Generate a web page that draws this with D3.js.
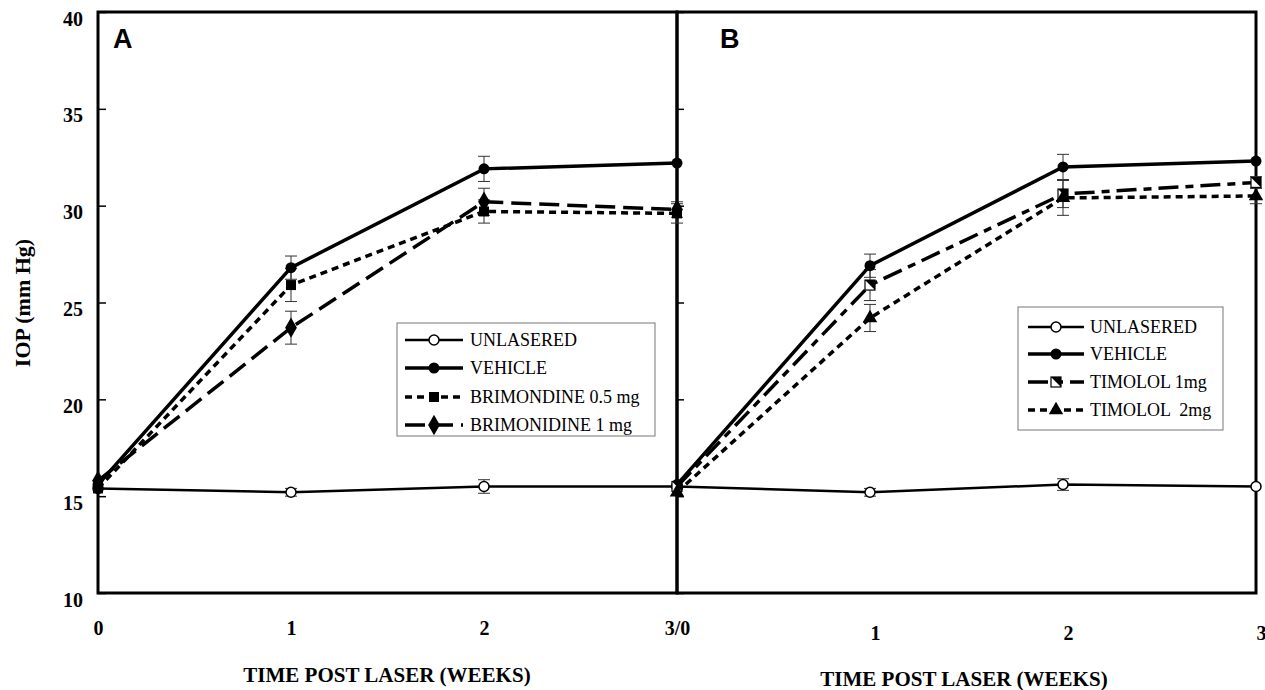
<!DOCTYPE html>
<html lang="en">
<head>
<meta charset="utf-8">
<title>IOP after laser</title>
<script src="https://d3js.org/d3.v7.min.js"></script>
<style>
  body { margin: 0; background: #fff; }
  .axis path { display: none; }
  .axis line { stroke: #000; stroke-width: 1.5px; }
  .axis text {
    font-family: "Liberation Serif", "Times New Roman", serif;
    font-weight: bold;
    font-size: 20px;
    fill: #000;
  }
  .legend text {
    font-family: "Liberation Serif", "Times New Roman", serif;
    font-size: 18px;
    fill: #000;
  }
  .title {
    font-family: "Liberation Serif", "Times New Roman", serif;
    font-weight: bold;
    font-size: 21px;
  }
  .panel {
    font-family: "Liberation Sans", Arial, sans-serif;
    font-weight: bold;
    font-size: 27px;
  }
</style>
</head>
<body>
<div id="chart"></div>
<script>

// data
var weeks = [0, 1, 2, 3]
var yTicks = [10, 15, 20, 25, 30, 35, 40]
var xLabelsA = ["0", "1", "2", "3/0"]
var xTicksB = [1, 2, 3]
var xLabelsB = ["1", "2", "3"]

// panel A
var unlaseredA = [15.4, 15.2, 15.5, 15.5]
var unlaseredAErr = [0, 0.2, 0.35, 0]
var vehicleA = [15.6, 26.8, 31.9, 32.2]
var vehicleAErr = [0, 0.6, 0.65, 0]
var brim05 = [15.4, 25.9, 29.7, 29.6]
var brim05Err = [0, 0.85, 0.6, 0.5]
var brim1 = [15.8, 23.7, 30.2, 29.8]
var brim1Err = [0, 0.85, 0.7, 0.4]
var legendA = ["UNLASERED", "VEHICLE", "BRIMONDINE 0.5 mg", "BRIMONIDINE 1 mg"]

// panel B
var unlaseredB = [15.5, 15.2, 15.6, 15.5]
var unlaseredBErr = [0, 0.2, 0.3, 0]
var vehicleB = [15.6, 26.9, 32.0, 32.3]
var vehicleBErr = [0, 0.6, 0.65, 0]
var timolol1 = [15.5, 25.9, 30.6, 31.2]
var timolol1Err = [0, 0.8, 0.7, 0.3]
var timolol2 = [15.2, 24.2, 30.4, 30.5]
var timolol2Err = [0, 0.7, 0.9, 0.4]
var legendB = ["UNLASERED", "VEHICLE", "TIMOLOL 1mg", "TIMOLOL  2mg"]

var w = 1265
var h = 690

var svg = d3.select("#chart")
    .append("svg")
    .attr("width", w)
    .attr("height", h)

var y = d3.scaleLinear().domain([10, 40]).range([593, 12])
var xA = d3.scaleLinear().domain([0, 3]).range([98, 677])
var xB = d3.scaleLinear().domain([0, 3]).range([677, 1256])

// line styles
var styles = {
    unlasered: { width: 2.5, dash: null, marker: "open" },
    vehicle: { width: 3.5, dash: null, marker: "circle" },
    brim05: { width: 3.5, dash: "7,5", marker: "square" },
    brim1: { width: 3.5, dash: "20,8", marker: "diamond" },
    timolol1: { width: 3.5, dash: "20,7,8,7", marker: "half" },
    timolol2: { width: 3.5, dash: "7,5", marker: "triangle" }
}

var panelA = [
    { values: unlaseredA, err: unlaseredAErr, style: styles.unlasered, label: legendA[0] },
    { values: vehicleA, err: vehicleAErr, style: styles.vehicle, label: legendA[1] },
    { values: brim05, err: brim05Err, style: styles.brim05, label: legendA[2] },
    { values: brim1, err: brim1Err, style: styles.brim1, label: legendA[3] }
]
var panelB = [
    { values: unlaseredB, err: unlaseredBErr, style: styles.unlasered, label: legendB[0] },
    { values: vehicleB, err: vehicleBErr, style: styles.vehicle, label: legendB[1] },
    { values: timolol1, err: timolol1Err, style: styles.timolol1, label: legendB[2] },
    { values: timolol2, err: timolol2Err, style: styles.timolol2, label: legendB[3] }
]

function marker(g, type, cx, cy) {
    if (type == "open") {
        g.append("circle").attr("cx", cx).attr("cy", cy).attr("r", 5)
            .attr("fill", "#fff").attr("stroke", "#000").attr("stroke-width", 1.5)
    } else if (type == "circle") {
        g.append("circle").attr("cx", cx).attr("cy", cy).attr("r", 5.5).attr("fill", "#000")
    } else if (type == "half") {
        g.append("rect").attr("x", cx - 5).attr("y", cy - 5).attr("width", 10).attr("height", 10)
            .attr("fill", "#fff").attr("stroke", "#000").attr("stroke-width", 1.2)
        g.append("path")
            .attr("d", "M" + (cx - 5) + "," + (cy - 5) + "L" + (cx + 5) + "," + (cy - 5) + "L" + (cx + 5) + "," + (cy + 5) + "Z")
            .attr("fill", "#000")
    } else {
        var sym = { square: d3.symbolSquare, diamond: d3.symbolDiamond, triangle: d3.symbolTriangle }[type]
        var size = { square: 100, diamond: 120, triangle: 90 }[type]
        g.append("path")
            .attr("d", d3.symbol().type(sym).size(size)())
            .attr("transform", "translate(" + cx + "," + cy + ")")
            .attr("fill", "#000")
    }
}

function drawPanel(series, x) {
    var g = svg.append("g")

    // error bars
    series.forEach(function(s) {
        s.values.forEach(function(v, i) {
            var e = s.err[i]
            if (!e) return
            var px = x(weeks[i])
            g.append("line").attr("x1", px).attr("x2", px)
                .attr("y1", y(v - e)).attr("y2", y(v + e))
                .attr("stroke", "#333").attr("stroke-width", 1)
            ;[v - e, v + e].forEach(function(c) {
                g.append("line").attr("x1", px - 6).attr("x2", px + 6)
                    .attr("y1", y(c)).attr("y2", y(c))
                    .attr("stroke", "#333").attr("stroke-width", 1)
            })
        })
    })

    var line = d3.line()
        .x(function(d, i) { return x(weeks[i]) })
        .y(function(d) { return y(d) })

    series.forEach(function(s) {
        g.append("path")
            .datum(s.values)
            .attr("d", line)
            .attr("fill", "none")
            .attr("stroke", "#000")
            .attr("stroke-width", s.style.width)
            .attr("stroke-dasharray", s.style.dash)
    })

    series.forEach(function(s) {
        s.values.forEach(function(v, i) {
            marker(g, s.style.marker, x(weeks[i]), y(v))
        })
    })
}

function drawLegend(series, bx, by, bw, bh, lx0, lx1, tx, rows) {
    var g = svg.append("g").attr("class", "legend")
    g.append("rect").attr("x", bx).attr("y", by).attr("width", bw).attr("height", bh)
        .attr("fill", "#fff").attr("stroke", "#777").attr("stroke-width", 1)
    series.forEach(function(s, i) {
        var ry = rows[i]
        g.append("line").attr("x1", lx0).attr("x2", lx1).attr("y1", ry).attr("y2", ry)
            .attr("stroke", "#000").attr("stroke-width", s.style.width)
            .attr("stroke-dasharray", s.style.dash)
        marker(g, s.style.marker, (lx0 + lx1) / 2, ry)
        g.append("text").attr("x", tx).attr("y", ry).attr("dy", "0.35em")
            .style("white-space", "pre")
            .text(s.label)
    })
}

// frames
svg.append("rect").attr("x", 98).attr("y", 12).attr("width", 579).attr("height", 581)
    .attr("fill", "none").attr("stroke", "#000").attr("stroke-width", 3)
svg.append("rect").attr("x", 677).attr("y", 12).attr("width", 579).attr("height", 581)
    .attr("fill", "none").attr("stroke", "#000").attr("stroke-width", 3)

// y axes
svg.append("g")
    .attr("class", "axis")
    .attr("transform", "translate(98,0)")
    .call(d3.axisLeft(y).tickValues(yTicks).tickSize(-8).tickPadding(15))
    .selectAll("text").attr("dy", "0.65em")

svg.append("g")
    .attr("class", "axis")
    .attr("transform", "translate(677,0)")
    .call(d3.axisLeft(y).tickValues(yTicks).tickSize(-7).tickFormat(""))

// x axes
svg.append("g")
    .attr("class", "axis")
    .attr("transform", "translate(0,593)")
    .call(d3.axisBottom(xA).tickValues(weeks).tickSize(0).tickPadding(28)
        .tickFormat(function(d, i) { return xLabelsA[i] }))

svg.append("g")
    .attr("class", "axis")
    .attr("transform", "translate(5,598)")
    .call(d3.axisBottom(xB).tickValues(xTicksB).tickSize(0).tickPadding(28)
        .tickFormat(function(d, i) { return xLabelsB[i] }))

drawPanel(panelA, xA)
drawPanel(panelB, xB)

drawLegend(panelA, 397, 323, 258, 113, 405, 463, 470, [340, 368, 397, 425])
drawLegend(panelB, 1018, 307, 205, 123, 1028, 1084, 1090, [327, 354, 382, 410])

// titles
svg.append("text").attr("class", "title").attr("x", 387).attr("y", 682)
    .attr("text-anchor", "middle").text("TIME POST LASER (WEEKS)")
svg.append("text").attr("class", "title").attr("x", 964).attr("y", 686)
    .attr("text-anchor", "middle").text("TIME POST LASER (WEEKS)")
svg.append("text").attr("class", "title")
    .style("font-size", "22px")
    .attr("transform", "translate(30,303) rotate(-90)")
    .attr("text-anchor", "middle").text("IOP (mm Hg)")

svg.append("text").attr("class", "panel").attr("x", 113).attr("y", 48).text("A")
svg.append("text").attr("class", "panel").attr("x", 720).attr("y", 48).text("B")

</script>
</body>
</html>
